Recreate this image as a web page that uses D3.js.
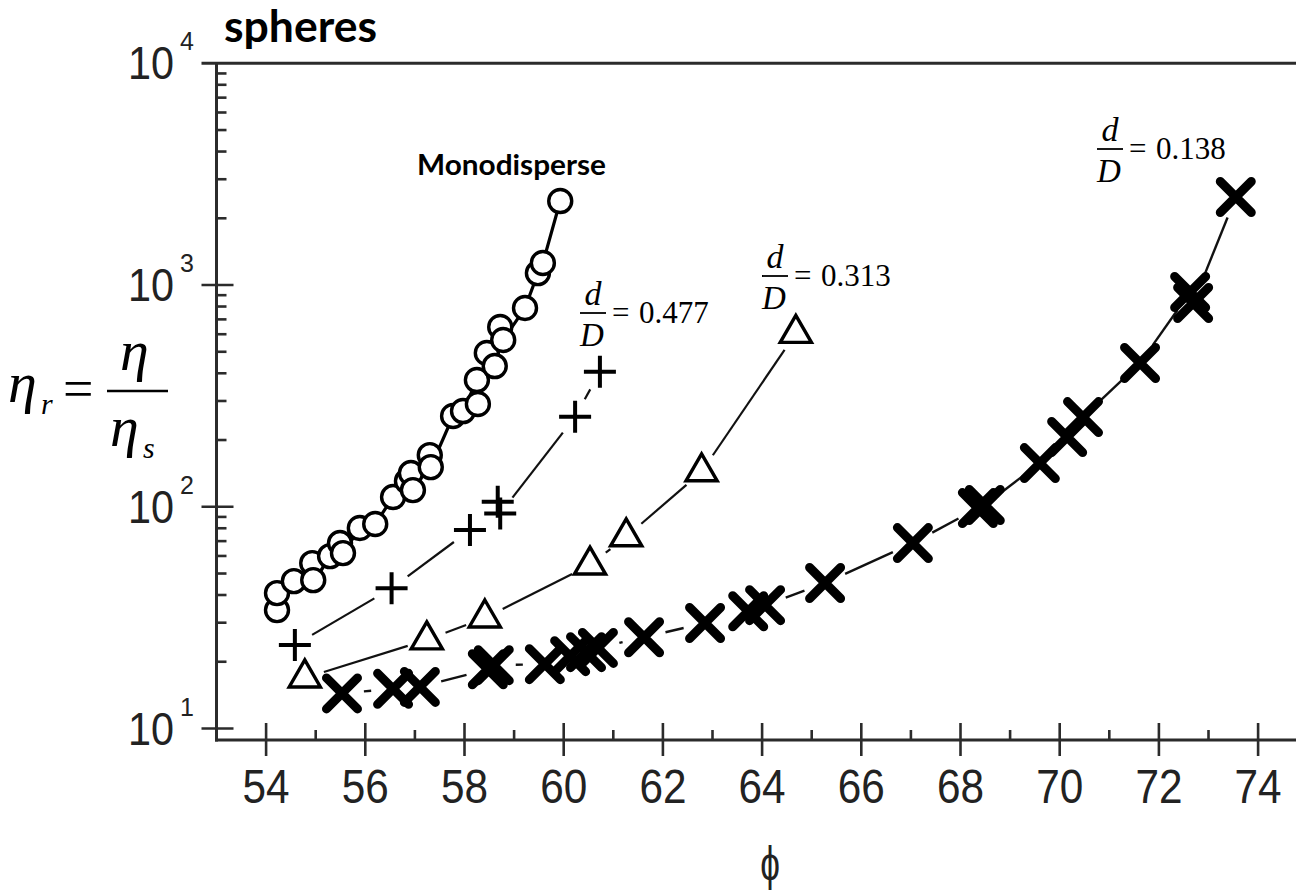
<!DOCTYPE html>
<html>
<head>
<meta charset="utf-8">
<script src="https://cdn.jsdelivr.net/npm/d3@7"></script>
<style>
  html, body { margin: 0; padding: 0; background: #fff; }
  svg { display: block; }
</style>
</head>
<body>
<svg id="chart" width="1296" height="894"></svg>
<script>
// Relative viscosity vs. packing fraction for sphere suspensions.

// Monodisperse spheres
const phiMono = [54.22, 54.22, 54.56, 54.93, 54.95, 55.29, 55.49, 55.55, 55.89, 56.20,
                 56.56, 56.84, 56.92, 56.96, 57.30, 57.32, 57.77, 57.97, 58.25, 58.27,
                 58.45, 58.61, 58.72, 58.78, 59.22, 59.48, 59.58, 59.93];
const etaMono = [34.2, 40.8, 46.2, 55.7, 46.7, 59.9, 68.6, 61.8, 80.2, 83.6,
                 110.6, 130.6, 141.9, 118.9, 171.0, 151.0, 256.6, 270.2, 372.8, 290.6,
                 493.6, 431.1, 646.6, 564.9, 787.6, 1132, 1257, 2392];

// Bimodal, d/D = 0.477
const phi477 = [54.58, 56.53, 58.11, 58.67, 58.72, 60.23, 60.73];
const eta477 = [23.8, 42.9, 78.5, 105.3, 93.3, 254.6, 406];

// Bimodal, d/D = 0.313
const phi313 = [54.78, 57.24, 58.41, 60.53, 61.26, 62.78, 64.68];
const eta313 = [16.9, 25.1, 31.5, 54.6, 73.2, 143.8, 605.6];

// Bimodal, d/D = 0.138
const phi138 = [55.53, 56.56, 57.10, 58.47, 58.59, 59.62, 60.13, 60.45, 60.69, 61.62,
                62.85, 63.72, 64.06, 65.27, 67.04, 68.35, 68.49, 69.60, 70.15, 70.47,
                71.62, 72.63, 72.69, 73.55];
const eta138 = [14.4, 15.1, 15.4, 18.5, 19.3, 19.5, 21.2, 22.1, 23.1, 25.8,
                29.9, 33.8, 36.0, 45.3, 68.6, 98.6, 101.8, 157.4, 206.3, 253.8,
                444.8, 930, 829.5, 2494];

// Axis ticks
const xTickValues = [54, 56, 58, 60, 62, 64, 66, 68, 70, 72, 74];
const xMinorTicks = [55, 57, 59, 61, 63, 65, 67, 69, 71, 73];
const yDecadeExponents = [1, 2, 3, 4];

// Text
const titleText = "spheres";
const monoLabel = "Monodisperse";
const ratioLabels = ["0.477", "0.313", "0.138"];
const xAxisTitle = "ϕ";

const W = 1296, H = 894;
const svg = d3.select("#chart");

const x = d3.scaleLinear().domain([53, 74]).range([216.5, 1258.1]);
const y = d3.scaleLog().domain([10, 10000]).range([728.5, 63.3]);
const axisY = 740;       // bottom frame line
const axisX = x(53);     // left frame line

const axisColor = "#2b2b2b";
const textColor = "#222";

// ---------- frame ----------
const frame = svg.append("g").attr("stroke", axisColor).attr("stroke-width", 3).attr("fill", "none");
frame.append("line").attr("x1", axisX).attr("x2", axisX).attr("y1", y(10000)).attr("y2", axisY + 1.5);
frame.append("line").attr("x1", axisX - 1.5).attr("x2", W).attr("y1", axisY).attr("y2", axisY);
frame.append("line").attr("x1", axisX - 15).attr("x2", W).attr("y1", y(10000)).attr("y2", y(10000));

// ---------- y axis ticks (log) ----------
const yMinor = [];
yDecadeExponents.slice(0, -1).forEach(e => {
  for (let m = 2; m <= 9; m++) yMinor.push(m * Math.pow(10, e));
});
const yAxisMajor = d3.axisLeft(y)
  .tickValues(yDecadeExponents.slice(0, -1).map(e => Math.pow(10, e)))
  .tickSize(0).tickFormat("");
const gy = svg.append("g").attr("transform", `translate(${axisX},0)`).call(yAxisMajor);
gy.select(".domain").remove();
const yt = svg.append("g").attr("stroke", axisColor).attr("stroke-width", 2.6);
yt.selectAll("line.major")
  .data(yDecadeExponents.slice(0, -1))
  .join("line").attr("class", "major")
  .attr("x1", axisX - 15).attr("x2", axisX + 17)
  .attr("y1", e => y(Math.pow(10, e))).attr("y2", e => y(Math.pow(10, e)));
yt.selectAll("line.minor")
  .data(yMinor)
  .join("line").attr("class", "minor")
  .attr("x1", axisX).attr("x2", axisX + 10)
  .attr("y1", d => y(d)).attr("y2", d => y(d));

// y tick labels: 10 with superscript exponent
const ylab = svg.append("g").attr("fill", textColor).attr("font-family", "'Liberation Sans', Arial, sans-serif");
ylab.selectAll("text.base")
  .data(yDecadeExponents)
  .join("text").attr("class", "base")
  .attr("transform", e => `translate(174,${y(Math.pow(10, e)) + 16}) scale(0.94,1.04)`)
  .attr("text-anchor", "end").attr("font-size", 44)
  .text("10");
ylab.selectAll("text.exp")
  .data(yDecadeExponents)
  .join("text").attr("class", "exp")
  .attr("x", 180).attr("y", e => y(Math.pow(10, e)) - 13)
  .attr("font-size", 25)
  .text(e => String(e));

// ---------- x axis ticks ----------
const xAxis = d3.axisBottom(x).tickValues(xTickValues).tickSize(0).tickFormat("");
const gx = svg.append("g").attr("transform", `translate(0,${axisY})`).call(xAxis);
gx.select(".domain").remove();
const xt = svg.append("g").attr("stroke", axisColor).attr("stroke-width", 2.6);
xt.selectAll("line.major")
  .data(xTickValues)
  .join("line").attr("class", "major")
  .attr("x1", d => x(d)).attr("x2", d => x(d))
  .attr("y1", axisY - 17).attr("y2", axisY + 16);
xt.selectAll("line.minor")
  .data(xMinorTicks)
  .join("line").attr("class", "minor")
  .attr("x1", d => x(d)).attr("x2", d => x(d))
  .attr("y1", axisY - 10).attr("y2", axisY);

svg.append("g").attr("fill", textColor)
  .attr("font-family", "'Liberation Sans', Arial, sans-serif").attr("font-size", 47)
  .selectAll("text")
  .data(xTickValues)
  .join("text")
  .attr("transform", d => `translate(${x(d)},803) scale(0.9,1.04)`)
  .attr("text-anchor", "middle")
  .text(d => d);

// x axis title
svg.append("text")
  .attr("transform", "translate(770,880) scale(0.8,1.1)")
  .attr("text-anchor", "middle")
  .attr("font-family", "'Liberation Sans', Arial, sans-serif")
  .attr("font-size", 44).attr("fill", textColor)
  .text(xAxisTitle);

// y axis title: eta_r = eta / eta_s
const yTitle = svg.append("g")
  .attr("font-family", "'Liberation Serif', 'Times New Roman', serif")
  .attr("font-style", "italic").attr("fill", "#000");
yTitle.append("text").attr("x", 8).attr("y", 402).attr("font-size", 58).text("η");
yTitle.append("text").attr("x", 41).attr("y", 414).attr("font-size", 30).text("r");
yTitle.append("text").attr("x", 63).attr("y", 407).attr("font-size", 54)
  .attr("font-style", "normal").text("=");
yTitle.append("line").attr("x1", 107).attr("x2", 168).attr("y1", 391).attr("y2", 391)
  .attr("stroke", "#000").attr("stroke-width", 2.5);
yTitle.append("text").attr("x", 120).attr("y", 370).attr("font-size", 58).text("η");
yTitle.append("text").attr("x", 110).attr("y", 446).attr("font-size", 58).text("η");
yTitle.append("text").attr("x", 143).attr("y", 458).attr("font-size", 30).text("s");

// ---------- title ----------
svg.append("text")
  .attr("x", 224).attr("y", 42)
  .attr("font-family", "Lato, 'Open Sans', sans-serif").attr("font-weight", 700)
  .attr("font-size", 43).attr("fill", "#000")
  .attr("textLength", 153).attr("lengthAdjust", "spacingAndGlyphs")
  .text(titleText);

svg.append("text")
  .attr("x", 417).attr("y", 175)
  .attr("font-family", "Lato, 'Open Sans', sans-serif").attr("font-weight", 700)
  .attr("font-size", 29).attr("fill", "#000")
  .attr("textLength", 189).attr("lengthAdjust", "spacingAndGlyphs")
  .text(monoLabel);

// ---------- d/D annotations ----------
const ratioPos = [[593, 313], [775, 276], [1110, 149]];
ratioLabels.forEach((lab, i) => {
  const [cx, by] = ratioPos[i];
  const g = svg.append("g")
    .attr("font-family", "'Liberation Serif', 'Times New Roman', serif")
    .attr("font-size", 31).attr("fill", "#000");
  g.append("text").attr("x", cx).attr("y", by - 8).attr("text-anchor", "middle")
    .attr("font-style", "italic").attr("font-size", 34).text("d");
  g.append("line").attr("x1", cx - 13).attr("x2", cx + 13).attr("y1", by).attr("y2", by)
    .attr("stroke", "#000").attr("stroke-width", 1.8);
  g.append("text").attr("x", cx - 1).attr("y", by + 33).attr("text-anchor", "middle")
    .attr("font-style", "italic").attr("font-size", 33).text("D");
  g.append("text").attr("x", cx + 19).attr("y", by + 10).text("=");
  g.append("text").attr("x", cx + 46).attr("y", by + 10).text(lab);
});

// ---------- series ----------
function gappedSegments(pts, gap) {
  const segs = [];
  for (let i = 0; i < pts.length - 1; i++) {
    const [x0, y0] = pts[i], [x1, y1] = pts[i + 1];
    const dx = x1 - x0, dy = y1 - y0, L = Math.hypot(dx, dy);
    if (L <= 2 * gap + 2) continue;
    const ux = dx / L, uy = dy / L;
    segs.push([x0 + ux * gap, y0 + uy * gap, x1 - ux * gap, y1 - uy * gap]);
  }
  return segs;
}

function seriesPoints(phis, etas) {
  return phis.map((p, i) => [x(p), y(etas[i])]).sort((a, b) => a[0] - b[0]);
}

const plot = svg.append("g");

// connecting lines, broken around the markers
function drawLine(pts, gap, width) {
  plot.append("g").attr("stroke", "#111").attr("stroke-width", width).attr("stroke-linecap", "butt")
    .selectAll("line").data(gappedSegments(pts, gap)).join("line")
    .attr("x1", d => d[0]).attr("y1", d => d[1]).attr("x2", d => d[2]).attr("y2", d => d[3]);
}

const ptsMono = seriesPoints(phiMono, etaMono);
const pts477 = seriesPoints(phi477, eta477);
const pts313 = seriesPoints(phi313, eta313);
const pts138 = seriesPoints(phi138, eta138);

drawLine(pts313, 20, 2.2);
drawLine(pts477, 20, 2.2);
drawLine(pts138, 22, 2.4);
plot.append("path")
  .attr("d", d3.line()(ptsMono))
  .attr("fill", "none").attr("stroke", "#000").attr("stroke-width", 3.2);

// markers: triangles
plot.append("g").selectAll("path").data(pts313).join("path")
  .attr("transform", d => `translate(${d[0]},${d[1]})`)
  .attr("d", d3.symbol(d3.symbolTriangle, 421)())
  .attr("fill", "none").attr("stroke", "#000").attr("stroke-width", 3.4)
  .attr("stroke-linejoin", "miter");

// crosses
const xs = 15.5;
plot.append("g").selectAll("path").data(pts138).join("path")
  .attr("transform", d => `translate(${d[0]},${d[1]})`)
  .attr("d", `M${-xs},${-xs}L${xs},${xs}M${-xs},${xs}L${xs},${-xs}`)
  .attr("fill", "none").attr("stroke", "#000").attr("stroke-width", 9)
  .attr("stroke-linecap", "round");

// pluses
const ps = 16;
plot.append("g").selectAll("path").data(pts477).join("path")
  .attr("transform", d => `translate(${d[0]},${d[1]})`)
  .attr("d", `M${-ps},0H${ps}M0,${-ps}V${ps}`)
  .attr("fill", "none").attr("stroke", "#000").attr("stroke-width", 4);

// circles
plot.append("g").selectAll("circle").data(ptsMono).join("circle")
  .attr("cx", d => d[0]).attr("cy", d => d[1]).attr("r", 11.5)
  .attr("fill", "#fff").attr("stroke", "#000").attr("stroke-width", 3.4);
</script>
</body>
</html>
